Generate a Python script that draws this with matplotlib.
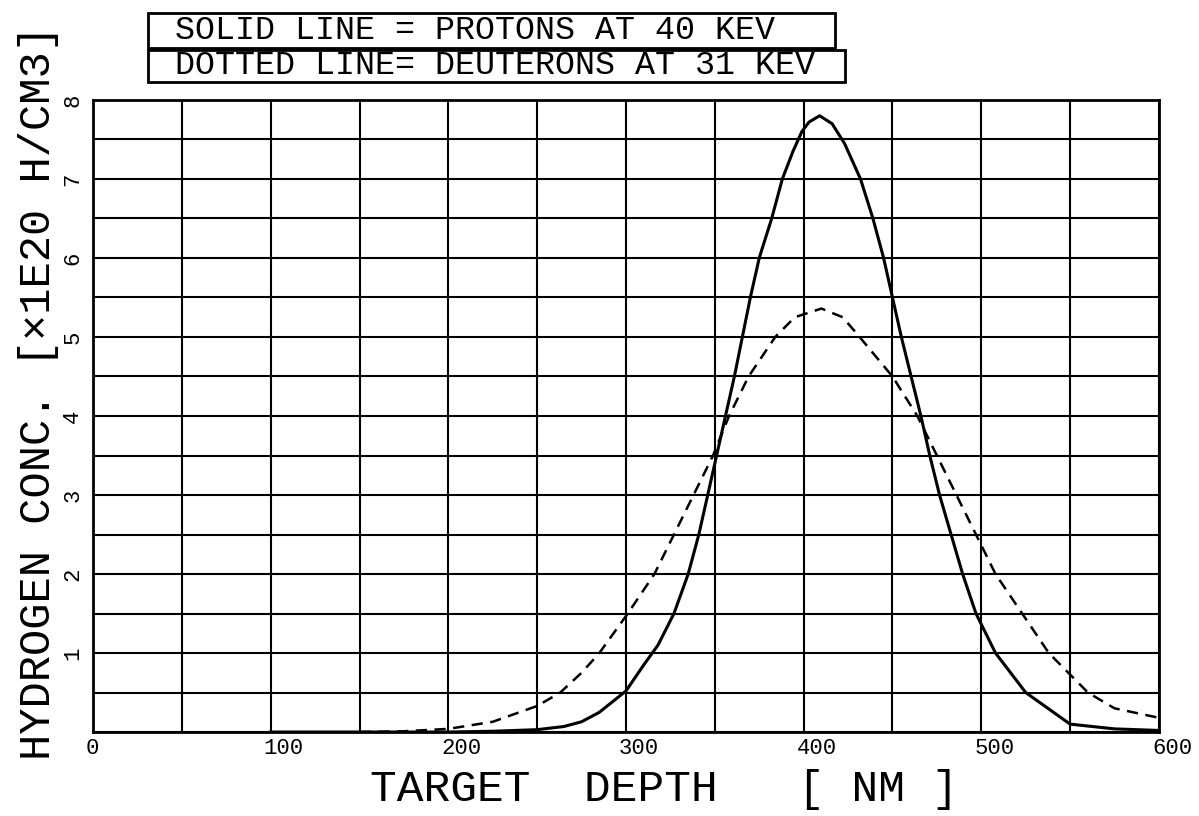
import numpy as np
import matplotlib.pyplot as plt
import matplotlib.transforms as mtransforms
from matplotlib.patches import Rectangle

plt.rcParams['font.family'] = ['Liberation Mono', 'DejaVu Sans Mono']

# protons at 40 keV (solid line), depth in nm, conc. in 1E20 H/cm3
proton_depth = [100, 200, 225, 250, 265, 275, 285, 300, 310, 318, 327, 335, 341,
                346, 351, 356, 361, 365.5, 370, 375, 382, 388, 394, 399, 403,
                409, 416, 423, 432, 439, 445, 450, 455, 460.5, 466, 471, 476.5,
                483, 489.5, 497, 508, 525, 550, 575, 600]
proton_conc = [0.0, 0.0, 0.01, 0.03, 0.07, 0.13, 0.25, 0.52, 0.85, 1.1, 1.5, 2.0,
               2.5, 3.0, 3.5, 4.0, 4.5, 5.0, 5.5, 6.0, 6.5, 7.0, 7.35, 7.6, 7.72,
               7.8, 7.7, 7.45, 7.0, 6.5, 6.0, 5.5, 5.0, 4.5, 4.0, 3.5, 3.0,
               2.5, 2.0, 1.5, 1.0, 0.5, 0.1, 0.04, 0.02]

# deuterons at 31 keV (dotted line)
deut_depth = [150, 175, 200, 225, 250, 263, 275, 285, 301, 316, 327, 338, 349,
              358, 369, 384, 395, 410, 422, 431.5, 450, 464, 475, 486, 497,
              508, 523, 538, 560, 575, 600]
deut_conc = [0.0, 0.01, 0.04, 0.13, 0.33, 0.5, 0.75, 1.0, 1.5, 2.0, 2.5, 3.0, 3.5,
             4.0, 4.5, 5.0, 5.25, 5.36, 5.25, 5.0, 4.5, 4.0, 3.5, 3.0, 2.5,
             2.0, 1.5, 1.0, 0.5, 0.3, 0.18]

x_ticks = [0, 100, 200, 300, 400, 500, 600]
y_ticks = [1, 2, 3, 4, 5, 6, 7, 8]

fig = plt.figure(figsize=(11.99, 8.16), dpi=100)
ax = fig.add_axes([0.0776, 0.1029, 0.889, 0.7746])

ax.plot(proton_depth, proton_conc, color='black', lw=2.2)
ax.plot(deut_depth, deut_conc, color='black', lw=1.8, linestyle=(0, (4.5, 3)))

ax.set_xlim(0, 600)
ax.set_ylim(0, 8)
ax.set_xticks(x_ticks)
ax.set_xticks(np.arange(0, 601, 50), minor=True)
ax.set_yticks(y_ticks)
ax.set_yticks(np.arange(0, 8.01, 0.5), minor=True)
ax.grid(True, which='both', color='black', lw=1.5)
ax.tick_params(which='both', length=0)
ax.tick_params(axis='x', labelsize=16, pad=4)
ax.tick_params(axis='y', labelsize=16, pad=7, labelrotation=90)
for s in ax.spines.values():
    s.set_linewidth(2)

# x tick labels sit just right of their grid line
off = mtransforms.ScaledTranslation(-7 / 100, 0, fig.dpi_scale_trans)
for lab in ax.get_xticklabels():
    lab.set_horizontalalignment('left')
    lab.set_transform(lab.get_transform() + off)
for lab in ax.get_yticklabels():
    lab.set_verticalalignment('center')

fig.text(0.554, 0.032, 'TARGET  DEPTH   [ NM ]', fontsize=32,
         ha='center', va='center')
fig.text(0.032, 0.069, 'HYDROGEN CONC. [×1E20 H/CM3]', fontsize=31.5,
         rotation=90, rotation_mode='anchor', ha='left', va='center')

# legend boxes at the top
W, H = 1199, 816
boxes = [(148, 13, 835, 48), (148, 50, 845, 82)]
texts = ['SOLID LINE = PROTONS AT 40 KEV', 'DOTTED LINE= DEUTERONS AT 31 KEV']
for (x0, y0, x1, y1), t in zip(boxes, texts):
    fig.add_artist(Rectangle((x0 / W, 1 - y1 / H), (x1 - x0) / W, (y1 - y0) / H,
                             transform=fig.transFigure, fill=False, lw=2,
                             edgecolor='black'))
    fig.text(175 / W, 1 - (y0 + y1) / 2 / H, t, fontsize=24,
             ha='left', va='center')

fig.savefig('out.png', dpi=100)
